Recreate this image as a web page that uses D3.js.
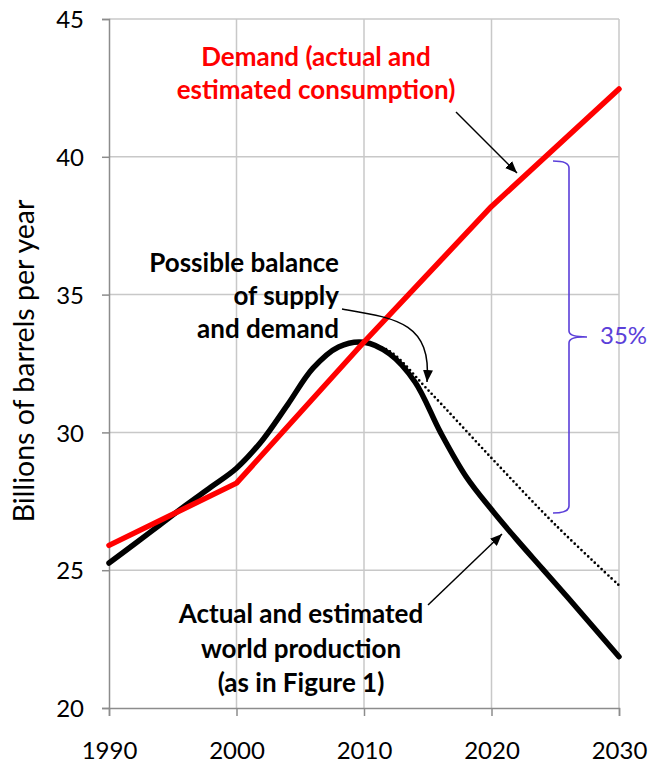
<!DOCTYPE html>
<html>
<head>
<meta charset="utf-8">
<script src="https://cdn.jsdelivr.net/npm/d3@7"></script>
<style>
html,body{margin:0;padding:0;background:#fff;}
svg{display:block;}
text{font-family:Lato,"Open Sans",sans-serif;}
</style>
</head>
<body>
<svg id="chart" width="650" height="765"></svg>
<script>
// ---- data ----
const demandYears  = [1990, 2000, 2010, 2020, 2030];
const demandValues = [25.9, 28.16, 33.28, 38.2, 42.46];

const prodYears  = [1990, 1992, 1994, 1996, 1998, 2000, 2002, 2004, 2006, 2008, 2010,
                    2012, 2014, 2016, 2018, 2020, 2022, 2024, 2026, 2028, 2030];
const prodValues = [25.26, 25.95, 26.65, 27.35, 28.02, 28.7, 29.7, 31.0, 32.33, 33.1, 33.27,
                    32.85, 31.83, 30.0, 28.4, 27.2, 26.1, 25.05, 24.0, 22.93, 21.86];

const balanceYears  = [2010, 2012, 2015, 2020, 2025, 2030];
const balanceValues = [33.27, 32.95, 31.55, 29.07, 26.65, 24.45];

const xTicks = [1990, 2000, 2010, 2020, 2030];
const yTicks = [20, 25, 30, 35, 40, 45];

const demandLabel  = ["Demand (actual and", "estimated consumption)"];
const balanceLabel = ["Possible balance", "of supply", "and demand"];
const prodLabel    = ["Actual and estimated", "world production", "(as in Figure 1)"];
const gapLabel     = "35%";
const yTitle       = "Billions of barrels per year";

// ---- layout ----
const svg = d3.select("#chart");
const x = d3.scaleLinear().domain([1990, 2030]).range([109, 619]);
const y = d3.scaleLinear().domain([20, 45]).range([708, 19]);

const gridColor = "#c8c8c8";
const axisColor = "#8c8c8c";

// markers
const defs = svg.append("defs");
defs.append("marker").attr("id", "arr")
  .attr("viewBox", "0 0 12 10").attr("refX", 12).attr("refY", 5)
  .attr("markerWidth", 12).attr("markerHeight", 10)
  .attr("markerUnits", "userSpaceOnUse").attr("orient", "auto")
  .append("path").attr("d", "M0,0 L12,5 L0,10 Z").attr("fill", "#000");

// gridlines
svg.append("g").selectAll("line").data(yTicks.filter(d => d > 20)).join("line")
  .attr("x1", x(1990)).attr("x2", x(2030))
  .attr("y1", d => y(d)).attr("y2", d => y(d))
  .attr("stroke", gridColor).attr("stroke-width", 1.5);
svg.append("g").selectAll("line").data(xTicks.filter(d => d > 1990)).join("line")
  .attr("x1", d => x(d)).attr("x2", d => x(d))
  .attr("y1", y(20)).attr("y2", y(45))
  .attr("stroke", gridColor).attr("stroke-width", 1.5);

// axes
const yAxis = svg.append("g").attr("transform", `translate(${x(1990)},0)`)
  .call(d3.axisLeft(y).tickValues(yTicks).tickSize(7).tickPadding(18).tickFormat(d3.format("d")));
const xAxis = svg.append("g").attr("transform", `translate(0,${y(20)})`)
  .call(d3.axisBottom(x).tickValues(xTicks).tickSize(8).tickPadding(26).tickFormat(d3.format("d")));
[yAxis, xAxis].forEach(g => {
  g.select(".domain").attr("stroke", axisColor).attr("stroke-width", 1.5);
  g.selectAll(".tick line").attr("stroke", axisColor).attr("stroke-width", 1.5);
  g.selectAll(".tick text").attr("fill", "#000").style("font-size", "24px").style("font-family", "Lato, 'Open Sans', sans-serif");
});
yAxis.selectAll(".tick text").attr("dy", "0.36em");

// y title
svg.append("text")
  .attr("transform", `translate(34,${361}) rotate(-90)`)
  .attr("text-anchor", "middle")
  .style("font-size", "28.5px")
  .text(yTitle);

// lines
const line = d3.line().x(d => x(d[0])).y(d => y(d[1]));
const smooth = d3.line().x(d => x(d[0])).y(d => y(d[1])).curve(d3.curveCatmullRom.alpha(0.5));

svg.append("path")
  .datum(balanceYears.map((d, i) => [d, balanceValues[i]]))
  .attr("d", smooth).attr("fill", "none").attr("stroke", "#000")
  .attr("stroke-width", 2.7).attr("stroke-dasharray", "0,4.6").attr("stroke-linecap", "round");

svg.append("path")
  .datum(prodYears.map((d, i) => [d, prodValues[i]]))
  .attr("d", smooth).attr("fill", "none").attr("stroke", "#000")
  .attr("stroke-width", 5.5).attr("stroke-linecap", "round").attr("stroke-linejoin", "round");

svg.append("path")
  .datum(demandYears.map((d, i) => [d, demandValues[i]]))
  .attr("d", line).attr("fill", "none").attr("stroke", "#ff0000")
  .attr("stroke-width", 5.5).attr("stroke-linecap", "round").attr("stroke-linejoin", "round");

// annotation texts
function multiline(lines, xx, y0, dy, anchor, color) {
  const t = svg.append("text").attr("text-anchor", anchor).attr("fill", color)
    .style("font-size", "26px").style("font-weight", "bold");
  lines.forEach((s, i) => t.append("tspan").attr("x", xx).attr("y", y0 + i * dy).text(s));
  return t;
}
multiline(demandLabel, 316, 66, 32.5, "middle", "#ff0000");
multiline(balanceLabel, 339, 272, 33, "end", "#000");
multiline(prodLabel, 301, 623, 34.5, "middle", "#000");

// arrows
svg.append("path").attr("d", "M456,112 L517,173")
  .attr("stroke", "#000").attr("stroke-width", 1.5).attr("fill", "none").attr("marker-end", "url(#arr)");
svg.append("path").attr("d", "M342,309 C395,318 432,322 427,382")
  .attr("stroke", "#000").attr("stroke-width", 1.5).attr("fill", "none").attr("marker-end", "url(#arr)");
svg.append("path").attr("d", "M428,605 L502,534")
  .attr("stroke", "#000").attr("stroke-width", 1.5).attr("fill", "none").attr("marker-end", "url(#arr)");

// bracket
const bc = "#5b3fd9";
svg.append("path")
  .attr("d", "M553,161 Q569,161 569,168 L569,331 Q569,337 587,337 M569,343 Q569,337 583,337 M569,343 L569,506 Q569,513 553,513")
  .attr("stroke", bc).attr("stroke-width", 1.6).attr("fill", "none");
svg.append("text").attr("x", 600).attr("y", 344).attr("fill", bc)
  .style("font-size", "24px").text(gapLabel);
</script>
</body>
</html>
